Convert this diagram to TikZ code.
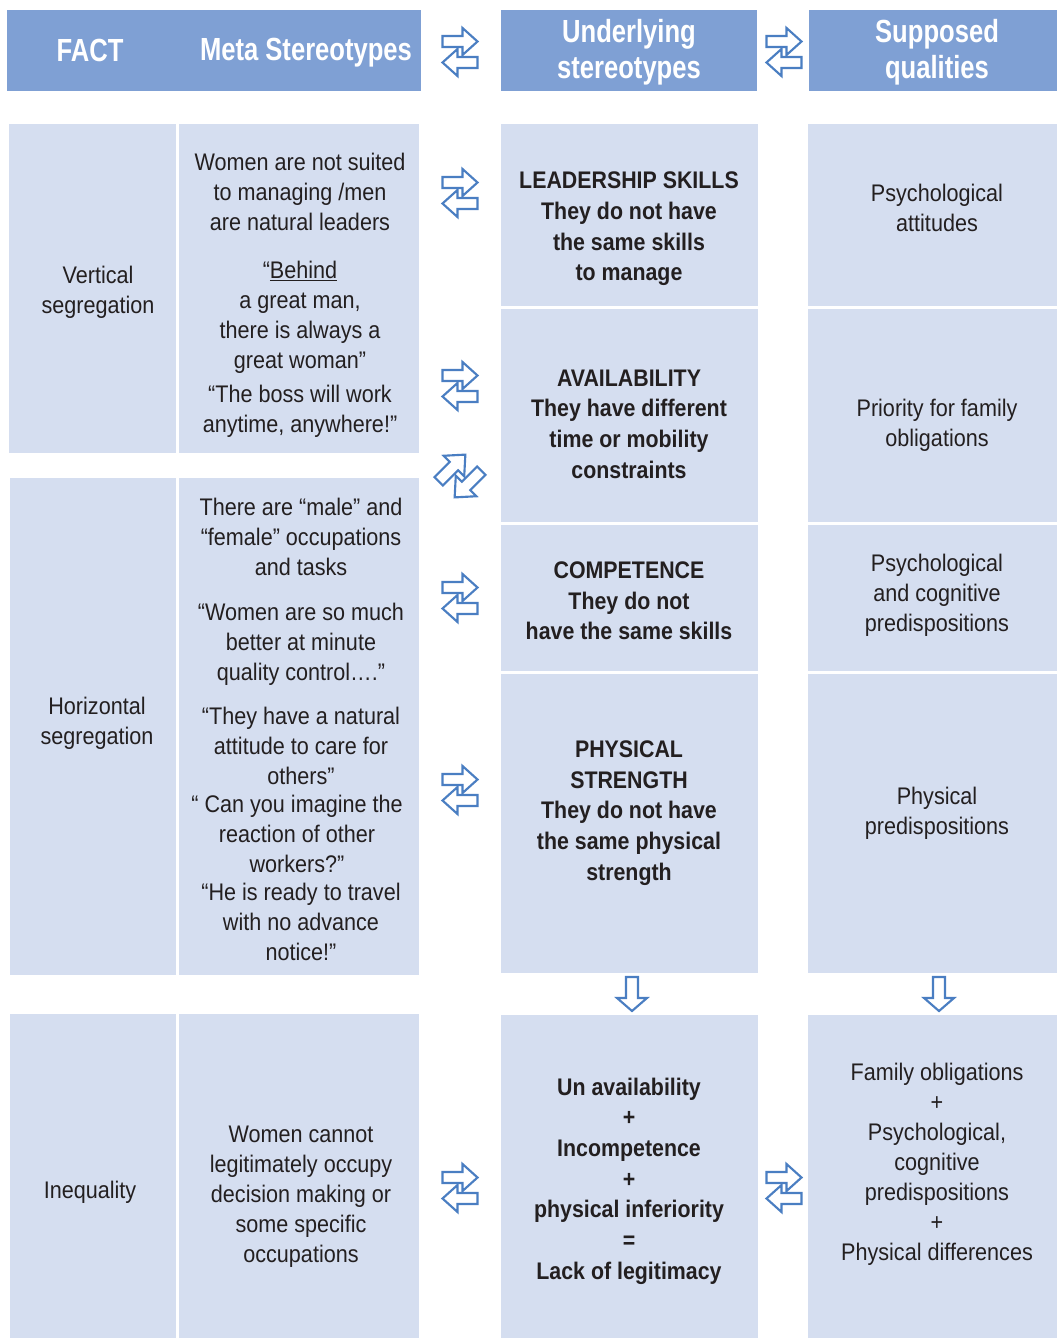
\documentclass[tikz,border=0pt]{standalone}
\usepackage{fontspec}
\setmainfont{Liberation Sans}
\newfontfamily\bodyf[FakeStretch=0.9]{Liberation Sans}
\newfontfamily\boldf[FakeStretch=0.89]{Liberation Sans}
\newfontfamily\headf[FakeStretch=0.8]{Liberation Sans}
\definecolor{hdr}{HTML}{7FA0D4}
\definecolor{cell}{HTML}{D5DEF0}
\definecolor{arr}{HTML}{4A7EC2}
\definecolor{txt}{HTML}{231F20}
\begin{document}
\begin{tikzpicture}[x=0.75pt,y=-0.75pt,
  hbox/.style={fill=hdr},
  cbox/.style={fill=cell},
  htext/.style={text=white,font=\headf\bfseries\fontsize{24}{27}\selectfont,align=center,inner sep=0pt},
  btext/.style={text=txt,font=\bodyf\fontsize{18}{22.5}\selectfont,align=center,inner sep=0pt},
  mtext/.style={text=txt,font=\boldf\bfseries\fontsize{18}{23}\selectfont,align=center,inner sep=0pt},
  arrowshape/.style={draw=arr,fill=white,line width=1.6pt,line join=miter},
  pics/swap/.style={code={
    \path[arrowshape] (-17.5,-16) -- (2.5,-16) -- (2.5,-24) -- (17.5,-10.5) -- (2.5,3) -- (2.5,-5) -- (-17.5,-5) -- cycle;
    \path[arrowshape] (17.5,5) -- (-2.5,5) -- (-2.5,-3) -- (-17.5,10.5) -- (-2.5,24) -- (-2.5,16) -- (17.5,16) -- cycle;}},
  pics/down/.style={code={
    \path[arrowshape] (-6,-17) -- (6,-17) -- (6,4) -- (15,4) -- (0,17) -- (-15,4) -- (-6,4) -- cycle;}}
]
\useasboundingbox[fill=white] (0,0) rectangle (1057,1338);

% header boxes
\fill[hbox] (7,10) rectangle (421,91);
\fill[hbox] (501,10) rectangle (757,91);
\fill[hbox] (809,10) rectangle (1057,91);
\node[htext] (hfact) at (90,50) {FACT};
\node[htext] (hmeta) at (306,53) {Meta Stereotypes};
\node[htext] (hund) at (629,52) {Underlying\\stereotypes};
\node[htext] (hsup) at (937,52) {Supposed\\qualities};

% left cells
\fill[cbox] (9,124) rectangle (176,453);
\fill[cbox] (179,124) rectangle (419,453);
\fill[cbox] (10,478) rectangle (176,975);
\fill[cbox] (179,478) rectangle (419,975);
\fill[cbox] (10,1014) rectangle (176,1338);
\fill[cbox] (179,1014) rectangle (419,1338);

% middle cells
\fill[cbox] (501,124) rectangle (758,306);
\fill[cbox] (501,309) rectangle (758,522);
\fill[cbox] (501,525) rectangle (758,671);
\fill[cbox] (501,674) rectangle (758,973);
\fill[cbox] (501,1015) rectangle (758,1338);

% right cells
\fill[cbox] (808,124) rectangle (1057,306);
\fill[cbox] (808,309) rectangle (1057,522);
\fill[cbox] (808,525) rectangle (1057,671);
\fill[cbox] (808,674) rectangle (1057,973);
\fill[cbox] (808,1015) rectangle (1057,1338);

% left texts
\node[btext] (fa) at (98,292) {Vertical\\segregation};
\node[btext] (fb) at (97,723) {Horizontal\\segregation};
\node[btext] (fc) at (90,1192) {Inequality};

\node[btext] (ma1) at (300,192) {Women are not suited\\to managing /men\\are natural leaders};
\node[btext] (ma2) at (300,317) {“\underline{Behind}\\a great man,\\there is always a\\great woman”};
\node[btext] (ma3) at (300,411) {“The boss will work\\anytime, anywhere!”};

\node[btext] (mb1) at (301,537) {There are “male” and\\“female” occupations\\and tasks};
\node[btext] (mb2) at (301,644) {“Women are so much\\better at minute\\quality control….”};
\node[btext] (mb3) at (301,746) {“They have a natural\\attitude to care for\\others”};
\node[btext] (mb4) at (297,834) {“ Can you imagine the\\reaction of other\\workers?”};
\node[btext] (mb5) at (301,922) {“He is ready to travel\\with no advance\\notice!”};

\node[btext] (mc) at (301,1197) {Women cannot\\legitimately occupy\\decision making or\\some specific\\occupations};

% middle texts
\node[mtext] (u1) at (629,229) {LEADERSHIP SKILLS\\They do not have\\the same skills\\to manage};
\node[mtext] (u2) at (629,424) {AVAILABILITY\\They have different\\time or mobility\\constraints};
\node[mtext] (u3) at (629,601) {COMPETENCE\\They do not\\have the same skills};
\node[mtext] (u4) at (629,813) {PHYSICAL\\STRENGTH\\They do not have\\the same physical\\strength};
\node[mtext] (u5) at (629,1181) {Un availability\\+\\Incompetence\\+\\physical inferiority\\=\\Lack of legitimacy};

% right texts
\node[btext] (s1) at (937,208) {Psychological\\attitudes};
\node[btext] (s2) at (937,425) {Priority for family\\obligations};
\node[btext] (s3) at (937,595) {Psychological\\and cognitive\\predispositions};
\node[btext] (s4) at (937,813) {Physical\\predispositions};
\node[btext] (s5) at (937,1164) {Family obligations\\+\\Psychological,\\cognitive\\predispositions\\+\\Physical differences};

% arrow icons
\pic at (460,52) {swap};
\pic at (784,52) {swap};
\pic at (460,193) {swap};
\pic at (460,386) {swap};
\pic[rotate=45,scale=1.08] at (460,476) {swap};
\pic at (460,598) {swap};
\pic at (460,790) {swap};
\pic at (460,1188) {swap};
\pic at (784,1188) {swap};
\pic at (632,994) {down};
\pic at (939,994) {down};
\end{tikzpicture}
\end{document}
